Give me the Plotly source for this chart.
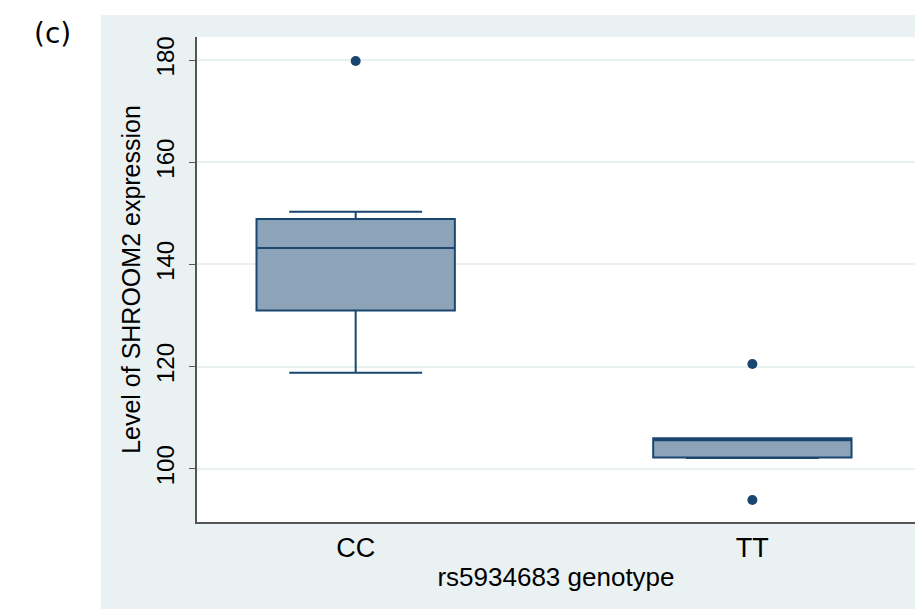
import plotly.graph_objects as go

categories = ["CC", "TT"]
cat_pos = [0, 1]
q1 = [131.0, 102.2]
median = [143.2, 105.6]
q3 = [148.9, 106.0]
lowerfence = [118.8, 102.1]
upperfence = [150.3, 106.0]
outlier_x = [0, 1, 1]
outlier_y = [179.8, 120.5, 93.9]
y_ticks = [100, 120, 140, 160, 180]

NAVY = "#1A476F"
FILL = "#8DA3B8"
PANEL = "#EAF1F3"

fig = go.Figure()
fig.add_trace(go.Box(
    x=cat_pos, q1=q1, median=median, q3=q3,
    lowerfence=lowerfence, upperfence=upperfence,
    width=0.5, whiskerwidth=0.67,
    fillcolor=FILL, line=dict(color=NAVY, width=2),
    boxpoints=False, showlegend=False, hoverinfo="skip",
))
fig.add_trace(go.Scatter(
    x=outlier_x, y=outlier_y, mode="markers",
    marker=dict(color=NAVY, size=10), showlegend=False, hoverinfo="skip",
))

fig.add_shape(type="rect", xref="paper", yref="paper", layer="below",
              x0=-(189 - 93) / 718, x1=(923 - 189) / 718,
              y0=-95 / 485, y1=(514 - 7) / 485,
              fillcolor=PANEL, line=dict(width=0))
fig.add_shape(type="rect", xref="paper", yref="paper", layer="below",
              x0=0, x1=1, y0=0, y1=1,
              fillcolor="white", line=dict(width=0))

fig.add_annotation(text="(c)", xref="paper", yref="paper",
                   x=(44 - 189) / 718, y=(514 - 25) / 485,
                   showarrow=False, xanchor="center", yanchor="middle",
                   font=dict(family="DejaVu Sans", size=28, color="black"))

fig.update_layout(
    width=923, height=609,
    paper_bgcolor="white", plot_bgcolor="rgba(0,0,0,0)",
    margin=dict(l=189, r=16, t=29, b=95),
    font=dict(family="Liberation Sans, Arial", color="black"),
    xaxis=dict(
        range=[-0.4, 1.41], tickvals=cat_pos, ticktext=categories,
        showgrid=False, zeroline=False, ticks="",
        showline=True, linecolor="#555555", linewidth=1.5,
        tickfont=dict(size=27), ticklabelstandoff=1,
        title=dict(text="rs5934683 genotype", font=dict(size=26), standoff=6),
    ),
    yaxis=dict(
        range=[89.6, 184.5], tickvals=y_ticks, tickangle=-90,
        showgrid=True, gridcolor="#E9F0F2", gridwidth=1.5,
        zeroline=False, ticks="outside", ticklen=6, tickcolor="#555555",
        showline=True, linecolor="#555555", linewidth=1.5,
        tickfont=dict(size=24), ticklabelstandoff=6,
        title=dict(text="Level of SHROOM2 expression", font=dict(size=25), standoff=4),
    ),
)

fig.write_html("out.html")
